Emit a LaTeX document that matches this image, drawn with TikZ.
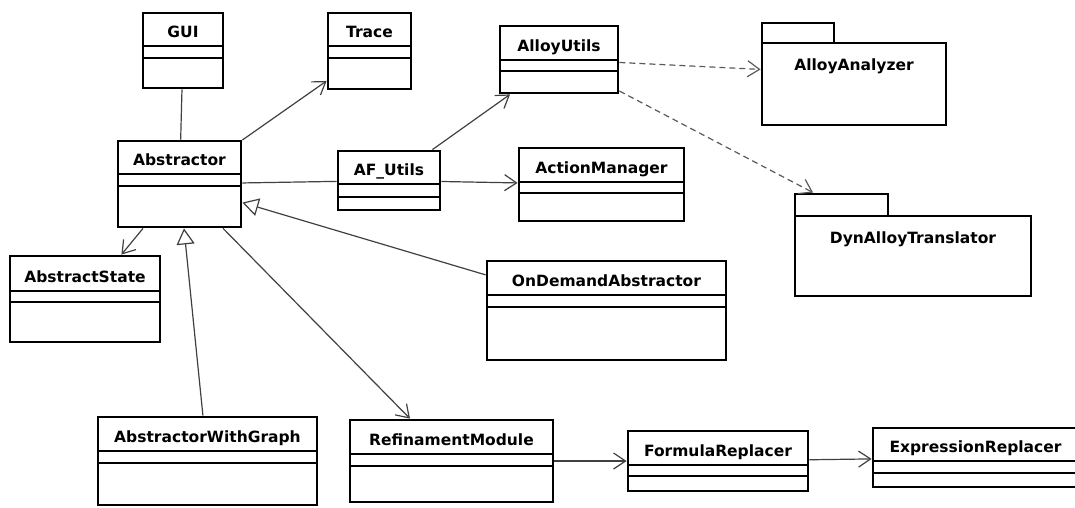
\documentclass[tikz,border=0pt]{standalone}
\usepackage{fontspec}
\setmainfont{DejaVu Sans}
\usepackage{tikz}
\usetikzlibrary{arrows.meta}

% klasse: navn, x1, y1, x2, y2, skille1, skille2, tittel
\newcommand{\umlclass}[8]{%
  \node[classbox, minimum width={#4-#2}, minimum height={#5-#3}] (#1) at ({(#2+#4)/2},{(#3+#5)/2}) {};
  \draw[sepline] (#2,#6) -- (#4,#6);
  \draw[sepline] (#2,#7) -- (#4,#7);
  \node[classname] (#1-name) at ({(#2+#4)/2},{#6-9}) {#8};
}

% pakke: navn, x1, fane topp, fane hoyre, kropp topp, x2, bunn, tittel
\newcommand{\umlpackage}[8]{%
  \node[pkgframe, minimum width={#6-#2}, minimum height={#7-#3}] (#1) at ({(#2+#6)/2},{(#3+#7)/2}) {};
  \draw[pkgline] (#2,#3) rectangle (#4,#5);
  \draw[pkgline] (#2,#5) rectangle (#6,#7);
  \node[classname] (#1-name) at ({(#2+#6)/2},{#5+27}) {#8};
}

\begin{document}
\begin{tikzpicture}[x=1pt, y=-1pt,
    classbox/.style={rectangle, draw, line width=2.8pt, inner sep=0pt},
    pkgframe/.style={rectangle, inner sep=0pt, outer sep=1.4pt},
    pkgline/.style={line width=2.8pt},
    sepline/.style={line width=1.1pt},
    classname/.style={anchor=base, inner sep=0pt, font=\bfseries\fontsize{15.5}{18}\selectfont},
    assoc/.style={draw=black!75, line width=1.2pt},
    navig/.style={assoc, -{Straight Barb[length=12pt, width=16pt]}},
    inherit/.style={assoc, -{Triangle[open, length=16pt, width=18pt, fill=white]}},
    depend/.style={navig, draw=black!65, dash pattern=on 6pt off 4pt}]
  \useasboundingbox (0,0) rectangle (1075,507);
  \clip (0,0) rectangle (1075,507);

  % klasser
  \umlclass{gui}{143}{13}{223}{88}{46}{58}{GUI}
  \umlclass{trace}{328}{13}{411}{89}{46}{58}{Trace}
  \umlclass{alloyutils}{500}{26}{618}{93}{60}{71}{AlloyUtils}
  \umlclass{abstractor}{118}{141}{241}{227}{174}{186}{Abstractor}
  \umlclass{afutils}{338}{151}{440}{210}{184}{197}{AF\_Utils}
  \umlclass{actionmgr}{519}{148}{684}{221}{182}{193}{ActionManager}
  \umlclass{absstate}{10}{256}{160}{342}{291}{302}{AbstractState}
  \umlclass{ondemand}{487}{261}{726}{360}{295}{307}{OnDemandAbstractor}
  \umlclass{withgraph}{98}{417}{317}{505}{451}{463}{AbstractorWithGraph}
  \umlclass{refine}{350}{420}{553}{502}{454}{466}{RefinamentModule}
  \umlclass{formula}{628}{431}{808}{491}{465}{476}{FormulaReplacer}
  \umlclass{expr}{873}{428}{1078}{487}{461}{473}{ExpressionReplacer}

  % pakker
  \umlpackage{analyzer}{762}{23}{834}{43}{946}{125}{AlloyAnalyzer}
  \umlpackage{dynalloy}{795}{194}{888}{216}{1031}{296}{DynAlloyTranslator}

  % forbindelser
  \draw[assoc] (gui) -- (abstractor);
  \draw[assoc] (abstractor) -- (afutils);
  \draw[navig] (abstractor) -- (trace);
  \draw[navig] (abstractor) -- (absstate);
  \draw[navig] (abstractor) -- (refine);
  \draw[navig] (afutils) -- (alloyutils);
  \draw[navig] (afutils) -- (actionmgr);
  \draw[navig] (refine) -- (formula);
  \draw[navig] (formula) -- (expr);
  \draw[inherit] (withgraph) -- (abstractor);
  \draw[inherit] (ondemand) -- (abstractor);
  \draw[depend] (alloyutils) -- (analyzer);
  \draw[depend] (alloyutils) -- (dynalloy);
\end{tikzpicture}
\end{document}
